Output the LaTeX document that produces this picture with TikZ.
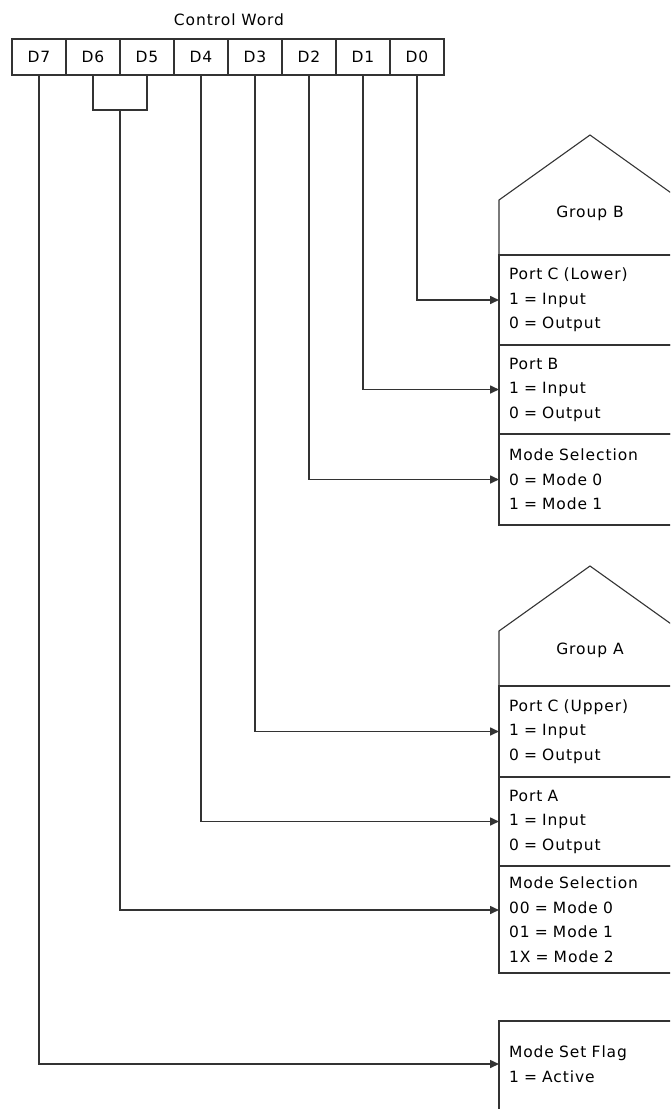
\documentclass[tikz,border=0pt]{standalone}
\usepackage{xcolor}
\usepackage{fontspec}
\setmainfont{DejaVu Sans}[LetterSpace=6]
\usepackage{tikz}
\usetikzlibrary{arrows.meta, positioning, calc}
\definecolor{WireGray}{HTML}{333333}

\begin{document}
\begin{tikzpicture}[x=1pt, y=-1pt, line width=1.6pt, font=\fontsize{15.5}{24.5}\selectfont,
  cell/.style={draw=WireGray, minimum width=54pt, minimum height=36pt, inner sep=0pt, outer sep=0pt},
  sect/.style={draw=WireGray, anchor=north west, minimum width=182pt, text width=162pt, inner xsep=10pt, inner ysep=0pt, outer sep=0pt, align=left},
  roof/.style={draw=WireGray, line width=1.1pt},
  wire/.style={draw=WireGray, -{Triangle[length=9pt, width=8pt]}}]
\useasboundingbox (0,0) rectangle (670,1109);
\clip (0,0) rectangle (670,1109);
% control word register
\node (title) at (229,20) {Control Word};
\node[cell] (d7) at (39,57) {D7};
\node[cell] (d6) at (93,57) {D6};
\node[cell] (d5) at (147,57) {D5};
\node[cell] (d4) at (201,57) {D4};
\node[cell] (d3) at (255,57) {D3};
\node[cell] (d2) at (309,57) {D2};
\node[cell] (d1) at (363,57) {D1};
\node[cell] (d0) at (417,57) {D0};
% group B
\node (grpb) at (590,213) {Group B};
\node[sect, minimum height=90pt] (pcl) at (499,255) {Port C (Lower)\\1 = Input\\0 = Output};
\node[sect, minimum height=89pt, below=0pt of pcl] (pb) {Port B\\1 = Input\\0 = Output};
\node[sect, minimum height=91pt, below=0pt of pb] (msb) {Mode Selection\\0 = Mode 0\\1 = Mode 1};
\draw[roof] (pcl.north west) -- ++(0,-55) -- ++(91,-65) -- ++(91,65) -- (pcl.north east);
% group A
\node (grpa) at (590,650) {Group A};
\node[sect, minimum height=91pt] (pcu) at (499,686) {Port C (Upper)\\1 = Input\\0 = Output};
\node[sect, minimum height=89pt, below=0pt of pcu] (pa) {Port A\\1 = Input\\0 = Output};
\node[sect, minimum height=107pt, below=0pt of pa] (msa) {Mode Selection\\00 = Mode 0\\01 = Mode 1\\1X = Mode 2};
\draw[roof] (pcu.north west) -- ++(0,-55) -- ++(91,-65) -- ++(91,65) -- (pcu.north east);
% mode set flag
\node[sect, draw=none, anchor=west] (msf) at (499,1064) {Mode Set Flag\\1 = Active};
\coordinate (flagtop) at (499,1021);
\coordinate (flagend) at (499,1120);
\draw[draw=WireGray] (flagend) -- (flagtop) -- ++(182,0);
% connections
\coordinate (jn) at ($(d6.south)!0.5!(d5.south) + (0,35)$);
\draw[draw=WireGray] (d6.south) |- (jn) -| (d5.south);
\draw[wire] (d0.south) |- (pcl.west);
\draw[wire] (d1.south) |- (pb.west);
\draw[wire] (d2.south) |- (msb.west);
\draw[wire] (d3.south) |- (pcu.west);
\draw[wire] (d4.south) |- (pa.west);
\draw[wire] (jn) |- ([yshift=9.5pt]msa.west);
\draw[wire] (d7.south) |- (msf.west);
\end{tikzpicture}
\end{document}
